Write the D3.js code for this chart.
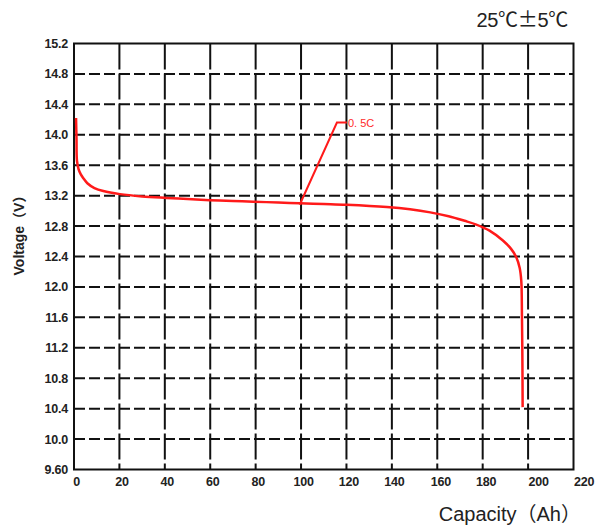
<!DOCTYPE html>
<html><head><meta charset="utf-8">
<script src="https://cdn.jsdelivr.net/npm/d3@7"></script>
<style>body{margin:0;background:#fff}svg{display:block}</style>
</head><body>
<svg id="c" width="600" height="525"></svg>
<script>
const capacity = [0.9, 1.1, 1.3, 2, 3, 4.1, 6, 9, 12.9, 20.2, 30, 40.8, 50, 59.8, 70, 79, 90, 99.4, 110, 120, 137.8, 148, 156.9, 165, 172, 177.2, 183, 188.9, 192.5, 194.8, 196.3, 197, 197.3, 197.5, 197.6];
const voltage  = [14.22, 13.95, 13.66, 13.55, 13.48, 13.43, 13.36, 13.30, 13.26, 13.22, 13.19, 13.17, 13.155, 13.14, 13.13, 13.12, 13.11, 13.10, 13.09, 13.08, 13.05, 13.02, 12.98, 12.93, 12.87, 12.82, 12.74, 12.61, 12.50, 12.39, 12.25, 12.08, 11.6, 11.0, 10.42];
const xTicks = [0,20,40,60,80,100,120,140,160,180,200,220];
const yTicks = [9.6,10.0,10.4,10.8,11.2,11.6,12.0,12.4,12.8,13.2,13.6,14.0,14.4,14.8,15.2];
const yTickLabels = ["9.60","10.0","10.4","10.8","11.2","11.6","12.0","12.4","12.8","13.2","13.6","14.0","14.4","14.8","15.2"];
const leaderCap = [99.4, 115.8, 120.2];
const leaderVolt = [13.08, 14.16, 14.16];
const rateLabel = "0. 5C";
const tempParts = [["25","a"],["℃±","c"],["5","a"],["℃","c"]];

const svg = d3.select("#c");
const L = 74, T = 43.5, R = 573.5, B = 469.5;
const x = d3.scaleLinear().domain([0,220]).range([L,R]);
const y = d3.scaleLinear().domain([9.6,15.2]).range([B,T]);
const font = "Arial, 'Liberation Sans', sans-serif";
const cjk = "Arial, 'Liberation Sans', 'Noto Sans CJK SC', sans-serif";
const cjkOnly = "'Noto Sans CJK SC', sans-serif";

// grid
const g = svg.append("g");
g.selectAll("line.h").data(yTicks.slice(1,-1)).join("line")
  .attr("x1",L).attr("x2",R).attr("y1",d=>y(d)).attr("y2",d=>y(d))
  .attr("stroke","#111").attr("stroke-width",2).attr("stroke-dasharray","11,4");
g.selectAll("line.v").data(xTicks.slice(1,-1)).join("line")
  .attr("y1",T).attr("y2",B).attr("x1",d=>x(d)).attr("x2",d=>x(d))
  .attr("stroke","#111").attr("stroke-width",2).attr("stroke-dasharray","26,4");
svg.append("rect").attr("x",L).attr("y",T).attr("width",R-L).attr("height",B-T)
  .attr("fill","none").attr("stroke","#111").attr("stroke-width",2);

// axes labels via d3 axes
const yAxis = d3.axisLeft(y).tickValues(yTicks).tickSize(0).tickPadding(6)
  .tickFormat((d,i)=>yTickLabels[i]);
const ya = svg.append("g").attr("transform",`translate(${L},0)`).call(yAxis);
ya.select(".domain").remove();
ya.selectAll("text").attr("font-family",font).attr("font-size",12.5).attr("font-weight","bold").attr("fill","#222")
  .attr("letter-spacing",-0.2);

const xAxis = d3.axisBottom(x).tickValues(xTicks).tickSize(0).tickPadding(8).tickFormat(d3.format("d"));
const xa = svg.append("g").attr("transform",`translate(0,${B})`).call(xAxis);
xa.select(".domain").remove();
xa.selectAll("text").attr("font-family",font).attr("font-size",12.5).attr("font-weight","bold").attr("fill","#222")
  .attr("letter-spacing",-0.2)
  .attr("dx",(d)=> d>=200 ? 10 : (d>=160 ? 3 : 2));

// curve
const pts = capacity.map((c,i)=>[c,voltage[i]]);
svg.append("path").datum(pts)
  .attr("d", d3.line().x(d=>x(d[0])).y(d=>y(d[1])).curve(d3.curveCatmullRom.alpha(0.5)))
  .attr("fill","none").attr("stroke","#ff1a1a").attr("stroke-width",2.5).attr("stroke-linejoin","round");

// leader
const lp = leaderCap.map((c,i)=>[c,leaderVolt[i]]);
svg.append("path").datum(lp).attr("d",d3.line().x(d=>x(d[0])).y(d=>y(d[1])))
  .attr("fill","none").attr("stroke","#ff1a1a").attr("stroke-width",2);
svg.append("text").attr("x",x(leaderCap[2])+1).attr("y",y(leaderVolt[2])+4)
  .attr("font-family",font).attr("font-size",11).attr("fill","#ff2a2a").text(rateLabel);

// axis titles
svg.append("text").attr("transform","translate(24,232) rotate(-90)").attr("text-anchor","middle")
  .attr("font-family",cjk).attr("font-size",14).attr("font-weight","bold").attr("fill","#222").text("Voltage（V）");
svg.append("text").attr("x",581).attr("y",521).attr("text-anchor","end")
  .attr("font-family",cjk).attr("font-size",20).attr("fill","#222").text("Capacity（Ah）");
const tt = svg.append("text").attr("x",568).attr("y",27).attr("text-anchor","end")
  .attr("font-size",20).attr("fill","#222").attr("letter-spacing",-0.3);
tt.selectAll("tspan").data(tempParts).join("tspan")
  .attr("font-family",d=>d[1]==="c"?cjkOnly:font).text(d=>d[0]);
</script>
</body></html>
